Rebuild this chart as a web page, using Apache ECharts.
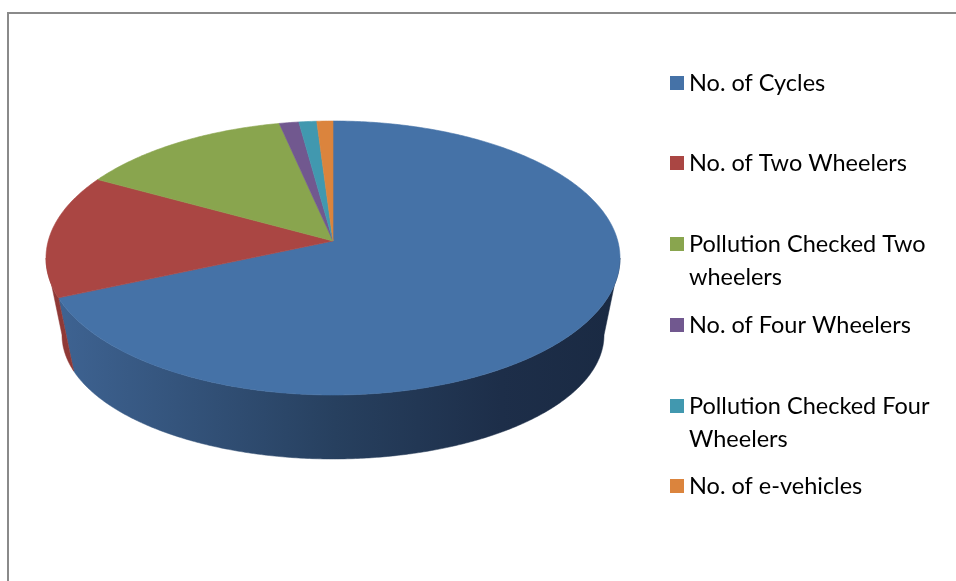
<!DOCTYPE html>
<html>
<head>
<meta charset="utf-8">
<script src="https://cdn.jsdelivr.net/npm/echarts@6/dist/echarts.min.js"></script>
<style>
html,body{margin:0;padding:0;background:#fff;}
#main{width:956px;height:581px;}
</style>
</head>
<body>
<div id="main"></div>
<script>
// ---- data ----
const categories = [
  'No. of Cycles',
  'No. of Two Wheelers',
  'Pollution Checked Two wheelers',
  'No. of Four Wheelers',
  'Pollution Checked Four Wheelers',
  'No. of e-vehicles'
];
const values = [70.3, 14.4, 12.3, 1.1, 1.0, 0.9];
const legendLabels = [
  'No. of Cycles',
  'No. of Two Wheelers',
  'Pollution Checked Two\nwheelers',
  'No. of Four Wheelers',
  'Pollution Checked Four\nWheelers',
  'No. of e-vehicles'
];

// ---- styles ----
const topColors = ['#4572a7', '#aa4643', '#89a54e', '#71588f', '#4198af', '#db843d'];
const sideColors = [
  {type: 'linear', x: 58, y: 0, x2: 612, y2: 0, global: true,
   colorStops: [{offset: 0, color: '#3e6392'}, {offset: 0.5, color: '#27405f'},
                {offset: 0.8, color: '#1d2e49'}, {offset: 1, color: '#1a2a43'}]},
  '#8f3936', '#6a8039', '#52406a', '#2f7385', '#a8622b'
];
const geo = {
  apex: [333, 241],
  top: {cx: 333, cy: 258, a: 287, b: 137},
  bot: {cx: 333, cy: 335, a: 271, b: 124}
};
const legendCenters = [83, 163, 244, 325, 406, 486];

const total = values.reduce((s, v) => s + v, 0);
let cum = 0;
const starts = values.map(v => { const s = cum; cum += v; return s; });

function rim(e, t) {
  return [e.cx + e.a * Math.sin(t), e.cy - e.b * Math.cos(t)];
}
function arcPts(e, t1, t2) {
  const n = Math.max(2, Math.ceil(Math.abs(t2 - t1) / 0.01));
  const pts = [];
  for (let i = 0; i <= n; i++) pts.push(rim(e, t1 + (t2 - t1) * i / n));
  return pts;
}

function makeRender(idx) {
  return function (params, api) {
    const s = api.value(0), v = api.value(1), tot = api.value(2);
    const t1 = s / tot * Math.PI * 2;
    const t2 = (s + v) / tot * Math.PI * 2;
    const children = [];
    const f1 = Math.max(t1, Math.PI / 2), f2 = Math.min(t2, Math.PI * 1.5);
    if (f2 > f1) {
      const up = arcPts(geo.top, f1, f2);
      const dn = arcPts(geo.bot, f1, f2).reverse();
      children.push({
        type: 'polygon',
        shape: {points: up.concat(dn)},
        style: {fill: sideColors[idx], stroke: sideColors[idx], lineWidth: 0.5}
      });
    }
    const pts = [geo.apex].concat(arcPts(geo.top, t1, t2));
    children.push({
      type: 'polygon',
      shape: {points: pts},
      style: {fill: topColors[idx], stroke: topColors[idx], lineWidth: 0.6}
    });
    return {type: 'group', children: children};
  };
}

const series = categories.map((name, i) => ({
  name: name,
  type: 'custom',
  coordinateSystem: 'none',
  renderItem: makeRender(i),
  itemStyle: {color: topColors[i]},
  data: [[starts[i], values[i], total]],
  silent: true
}));

const legends = categories.map((name, i) => {
  const two = legendLabels[i].indexOf('\n') >= 0;
  return {
    data: [name],
    orient: 'vertical',
    left: 670,
    top: two ? legendCenters[i] - 49.5 : legendCenters[i] - 16.5,
    padding: 0,
    icon: 'rect',
    itemWidth: 14,
    itemHeight: 14,
    itemGap: 0,
    selectedMode: false,
    // blank first line keeps the first text line level with the colour box
    formatter: () => (two ? '\n' : '') + legendLabels[i],
    textStyle: {
      fontFamily: 'Lato',
      fontSize: 23.5,
      color: '#000',
      lineHeight: 33
    }
  };
});

const chart = echarts.init(document.getElementById('main'), null, {renderer: 'canvas'});
chart.setOption({
  animation: false,
  backgroundColor: '#fff',
  legend: legends,
  series: series,
  graphic: [{
    type: 'rect',
    silent: true,
    shape: {x: 8, y: 13, width: 1200, height: 1200},
    style: {fill: 'none', stroke: '#8a8a8a', lineWidth: 2}
  }]
});
</script>
</body>
</html>
